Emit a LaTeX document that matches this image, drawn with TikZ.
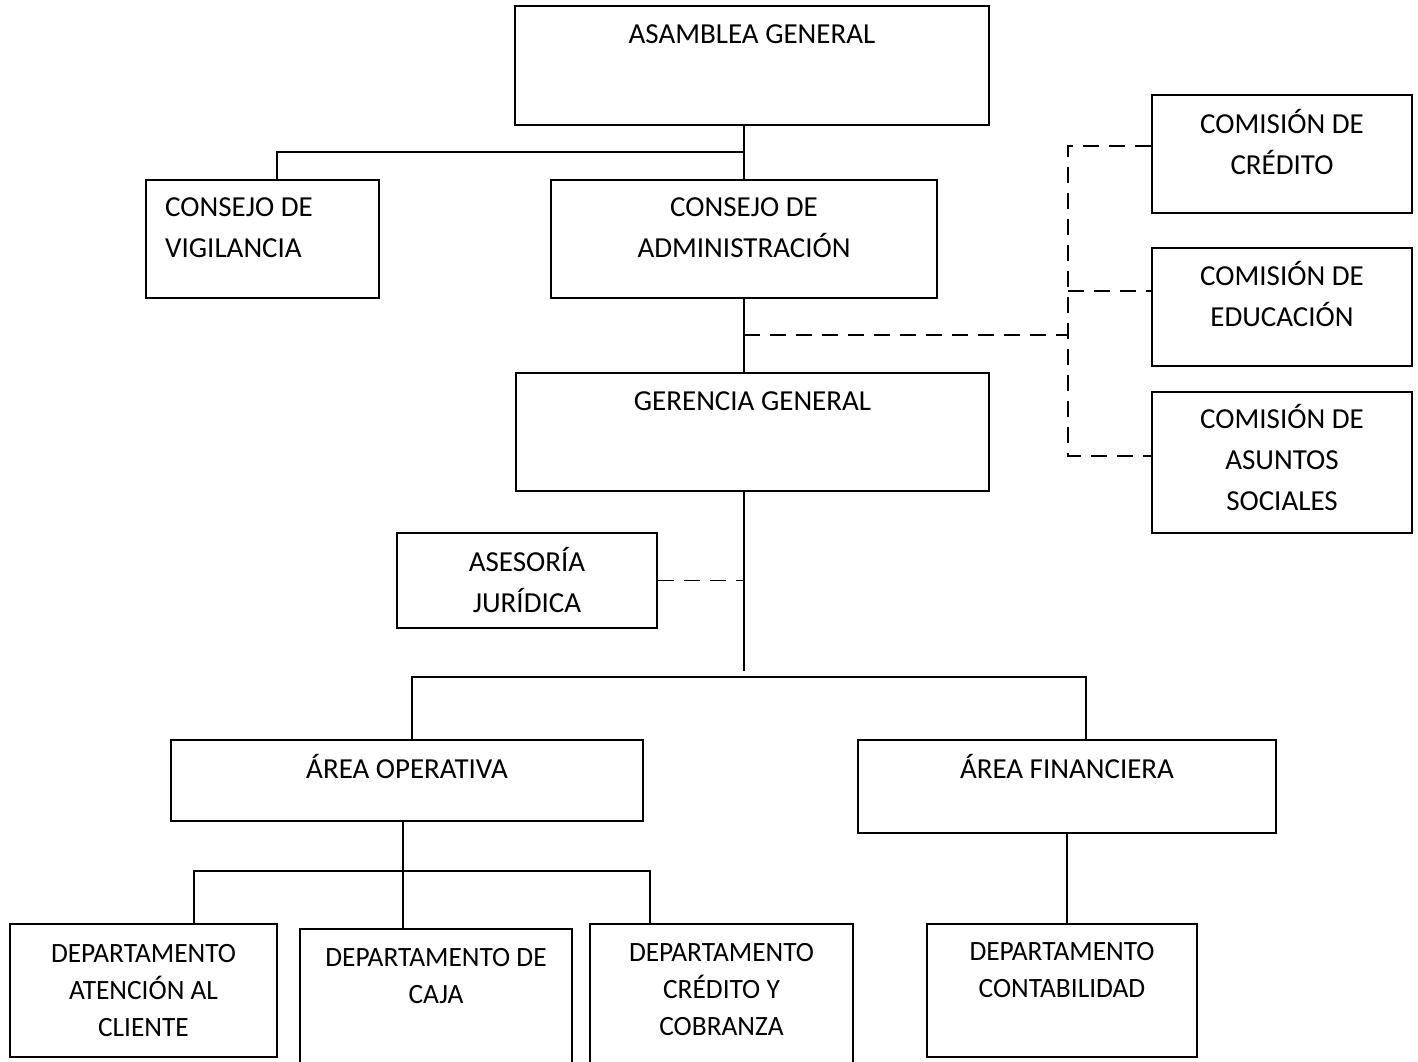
\documentclass[tikz,border=0pt]{standalone}
\usepackage{fontspec}
\setmainfont{Carlito}
\newfontfamily\deptfont[FakeStretch=0.98]{Carlito}
\usepackage{tikz}
\usetikzlibrary{positioning,fit}

\begin{document}
\begin{tikzpicture}[
    x=0.02cm, y=-0.02cm,
    box/.style={rectangle, draw, line width=1.3pt, inner sep=0pt},
    txt/.style={anchor=base, align=center, inner sep=0pt, font=\fontsize{16.5pt}{23.3pt}\selectfont},
    depttxt/.style={anchor=base, align=center, inner sep=0pt, font=\deptfont\fontsize{15.9pt}{21pt}\selectfont},
    link/.style={line width=1.1pt},
    thinlink/.style={line width=0.8pt},
    dashlink/.style={line width=1.1pt, dash pattern=on 0.32cm off 0.2cm}
]
    \clip (0,0) rectangle (1418,1062);

    % Governing bodies
    \node[box, fit={(515,6) (989,125)}] (asamblea) {};
    \node[box, fit={(146,180) (379,298)}] (vigilancia) {};
    \node[box, fit={(551,180) (937,298)}] (admin) {};
    \node[box, fit={(516,373) (989,491)}] (gerencia) {};
    \node[box, fit={(397,533) (657,628)}] (asesoria) {};

    % Commissions (right column)
    \node[box, fit={(1152,95) (1412,213)}] (credito) {};
    \node[box, fit={(1152,248) (1412,366)}] (educacion) {};
    \node[box, fit={(1152,392) (1412,533)}] (sociales) {};

    % Areas
    \node[box, fit={(171,740) (643,821)}] (operativa) {};
    \node[box, fit={(858,740) (1276,833)}] (financiera) {};

    % Departments
    \node[box, line width=1.1pt, fit={(10,924) (277,1057)}] (atencion) {};
    \node[box, line width=1.1pt, fit={(300,929) (572,1075)}] (caja) {};
    \node[box, line width=1.1pt, fit={(590,924) (853,1075)}] (cobranza) {};
    \node[box, line width=1.1pt, fit={(927,924) (1197,1057)}] (contab) {};

    % Texts (base = baseline of the last line)
    \node[txt] at ([yshift=-0.78cm]asamblea.north) {ASAMBLEA GENERAL};
    \node[txt, anchor=base west, align=left] at ([xshift=0.4cm, yshift=-1.58cm]vigilancia.north west) {CONSEJO DE\\VIGILANCIA};
    \node[txt] at ([yshift=-1.58cm]admin.north) {CONSEJO DE\\ADMINISTRACIÓN};
    \node[txt] at ([yshift=-0.78cm]gerencia.north) {GERENCIA GENERAL};
    \node[txt] at ([yshift=-1.62cm]asesoria.north) {ASESORÍA\\JURÍDICA};
    \node[txt] at ([yshift=-1.62cm]credito.north) {COMISIÓN DE\\CRÉDITO};
    \node[txt] at ([yshift=-1.60cm]educacion.north) {COMISIÓN DE\\EDUCACIÓN};
    \node[txt] at ([yshift=-2.40cm]sociales.north) {COMISIÓN DE\\ASUNTOS\\SOCIALES};
    \node[txt] at ([yshift=-0.80cm]operativa.north) {ÁREA OPERATIVA};
    \node[txt] at ([yshift=-0.80cm]financiera.north) {ÁREA FINANCIERA};
    \node[depttxt] at ([yshift=-2.26cm]atencion.north) {DEPARTAMENTO\\ATENCIÓN AL\\CLIENTE};
    \node[depttxt] at ([yshift=-1.50cm]caja.north) {DEPARTAMENTO DE\\CAJA};
    \node[depttxt] at ([yshift=-2.24cm]cobranza.north) {DEPARTAMENTO\\CRÉDITO Y\\COBRANZA};
    \node[depttxt] at ([yshift=-1.48cm]contab.north) {DEPARTAMENTO\\CONTABILIDAD};

    % Junction points
    \coordinate (topjoin) at (744,152);
    \coordinate (vigjoin) at (277,152);
    \coordinate (comjoin) at (744,335);
    \coordinate (combus) at (1068,335);
    \coordinate (com1) at (1068,146);
    \coordinate (com2) at (1068,291);
    \coordinate (com3) at (1068,456);
    \coordinate (gerend) at (744,671);
    \coordinate (areaL) at (412,677);
    \coordinate (areaR) at (1086,677);
    \coordinate (opbus) at (403,871);
    \coordinate (opL) at (194,871);
    \coordinate (opR) at (650,871);

    % Solid links - upper part
    \draw[link] (asamblea.south -| admin.north) -- (admin.north);
    \draw[link] (topjoin) -- (vigjoin) -- (vigjoin |- vigilancia.north);
    \draw[link] (admin.south) -- (admin.south |- gerencia.north);
    \draw[link] (gerencia.south -| gerend) -- (gerend);

    % Dashed links - commissions and advisory
    \draw[dashlink] (comjoin) -- (combus);
    \draw[dashlink] (com1 -| credito.west) -- (com1) -- (com3) -- (com3 -| sociales.west);
    \draw[dashlink] (com2) -- (com2 -| educacion.west);
    \draw[dashlink] (asesoria.east) -- (asesoria.east -| gerend);

    % Solid links - areas
    \draw[link] (areaL |- operativa.north) -- (areaL) -- (areaR) -- (areaR |- financiera.north);

    % Solid links - departments
    \draw[thinlink] (operativa.south -| opbus) -- (opbus |- caja.north);
    \draw[thinlink] (opL |- atencion.north) -- (opL) -- (opR) -- (opR |- cobranza.north);
    \draw[thinlink] (financiera.south) -- (financiera.south |- contab.north);
\end{tikzpicture}
\end{document}
